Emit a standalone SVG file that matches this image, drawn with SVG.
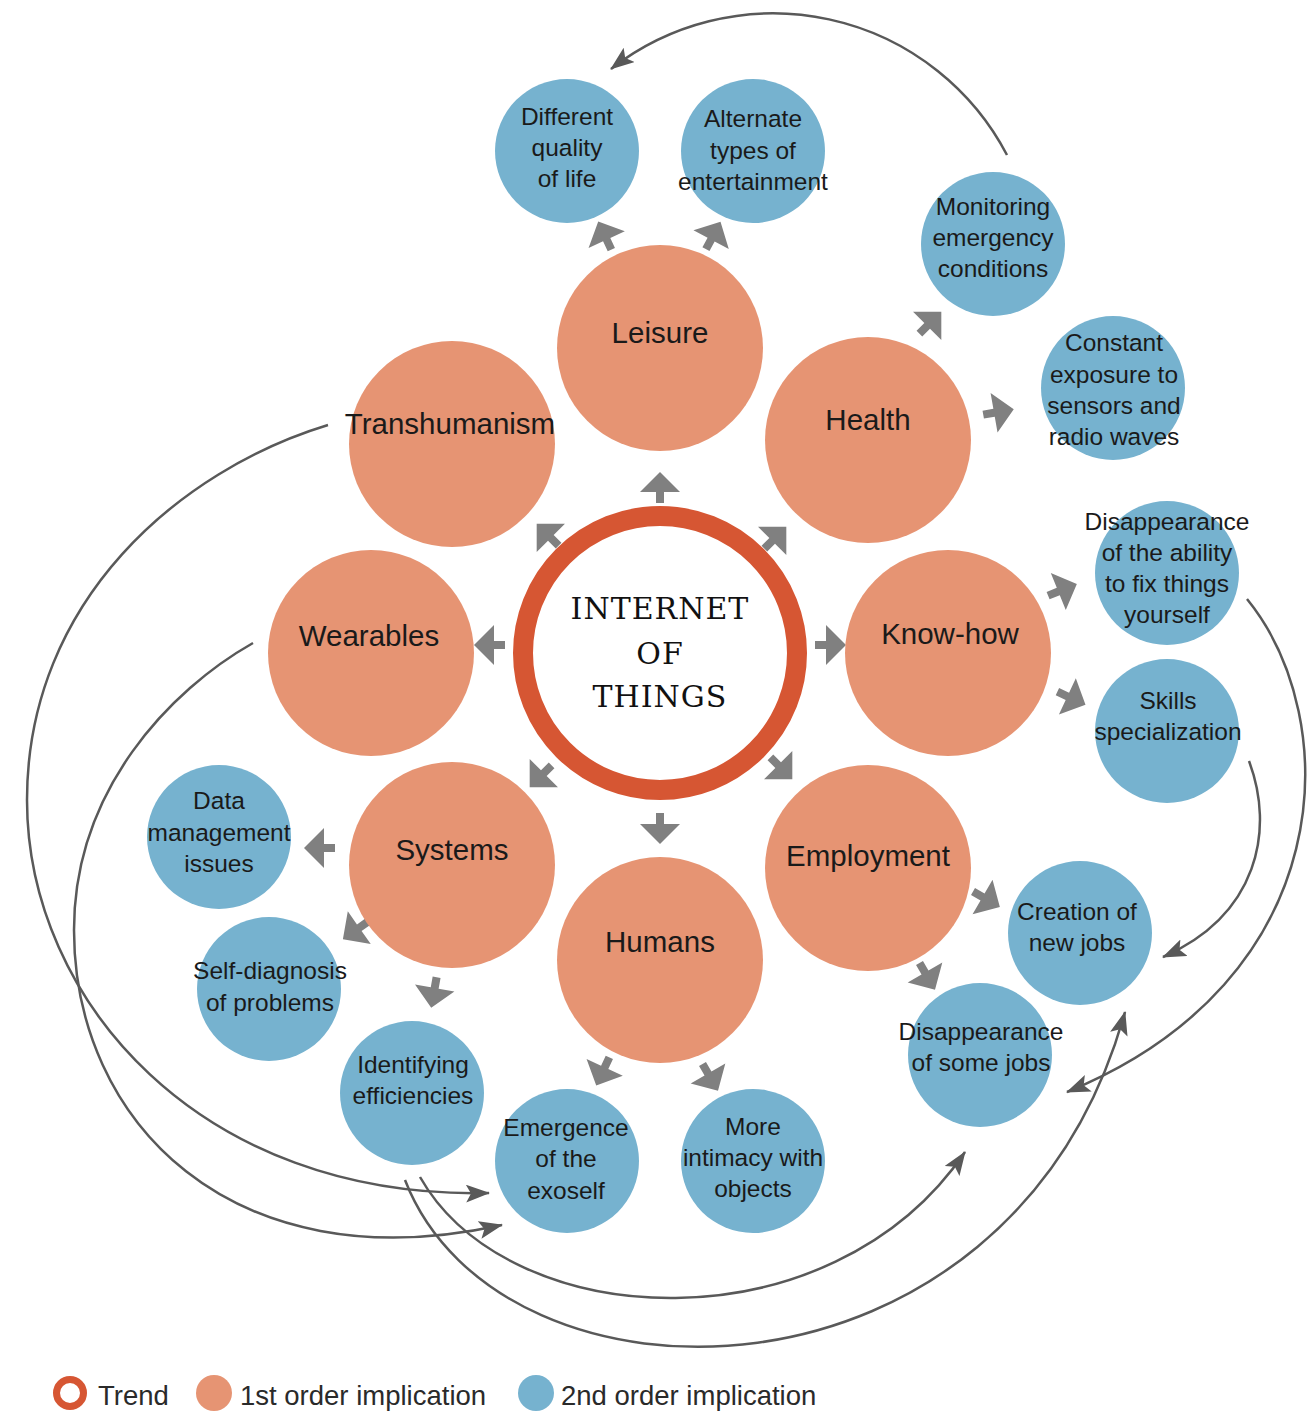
<svg xmlns="http://www.w3.org/2000/svg" xmlns:xlink="http://www.w3.org/1999/xlink" width="1313" height="1412" viewBox="0 0 1313 1412">
<style>
.o{fill:#E69473}
.b{fill:#76B2CF}
.ot{font-family:"Liberation Sans",Arial,sans-serif;font-size:29.5px;fill:#1a1a1a;text-anchor:middle}
.bt{font-family:"Liberation Sans",Arial,sans-serif;font-size:24.5px;fill:#1a1a1a;text-anchor:middle}
.ct{font-family:"DejaVu Serif","Liberation Serif",serif;font-size:30px;fill:#111;text-anchor:middle;letter-spacing:1px}
.lt{font-family:"Liberation Sans",Arial,sans-serif;font-size:27.5px;fill:#2a2a2a}
.ba{fill:#808080}
.cn{fill:none;stroke:#595959;stroke-width:2.5;marker-end:url(#ah)}
</style>
<defs>
<path id="blk" d="M16,0 L-4,-20 L-4,-4 L-15,-4 L-15,4 L-4,4 L-4,20 Z"/>
<marker id="ah" markerUnits="userSpaceOnUse" markerWidth="26" markerHeight="20" viewBox="0 0 26 20" refX="23" refY="9" orient="auto">
<path d="M0,0 L24,9 L0,18 L5,9 Z" fill="#595959"/>
</marker>
</defs>
<rect width="1313" height="1412" fill="#fff"/>

<g id="connectors">
<path class="cn" d="M1007,155 A264,264 0 0 0 611,69"/>
<path class="cn" d="M1247,599 C1345,720 1340,980 1067,1092"/>
<path class="cn" d="M1249,761 C1275,830 1258,915 1163,957"/>
<path class="cn" d="M328,425 C180,470 27,600 27,800 C27,1000 200,1200 489,1193"/>
<path class="cn" d="M253,643 C170,690 74,790 74,930 C74,1120 230,1285 502,1225"/>
<path class="cn" d="M420,1177 C510,1335 830,1350 965,1152"/>
<path class="cn" d="M405,1180 C500,1425 1010,1425 1125,1012"/>
</g>

<g id="block-arrows" class="ba">
<use href="#blk" transform="translate(660,488) rotate(-90)"/>
<use href="#blk" transform="translate(775,538) rotate(-45)"/>
<use href="#blk" transform="translate(548,535) rotate(-135)"/>
<use href="#blk" transform="translate(830,645)"/>
<use href="#blk" transform="translate(490,645) rotate(180)"/>
<use href="#blk" transform="translate(781,768) rotate(45)"/>
<use href="#blk" transform="translate(541,776) rotate(135)"/>
<use href="#blk" transform="translate(660,828) rotate(90)"/>
<use href="#blk" transform="translate(605,236) rotate(-115)"/>
<use href="#blk" transform="translate(713,236) rotate(-62)"/>
<use href="#blk" transform="translate(930,323) rotate(-45)"/>
<use href="#blk" transform="translate(998,412) rotate(-10)"/>
<use href="#blk" transform="translate(1062,590) rotate(-22)"/>
<use href="#blk" transform="translate(1071,698) rotate(25)"/>
<use href="#blk" transform="translate(986,899) rotate(30)"/>
<use href="#blk" transform="translate(927,976) rotate(60)"/>
<use href="#blk" transform="translate(710,1077) rotate(60)"/>
<use href="#blk" transform="translate(603,1071) rotate(115)"/>
<use href="#blk" transform="translate(434,992) rotate(100)"/>
<use href="#blk" transform="translate(356,930) rotate(145)"/>
<use href="#blk" transform="translate(320,848) rotate(180)"/>
</g>

<g id="iot">
<circle cx="660" cy="653" r="137" fill="#fff" stroke="#D65633" stroke-width="20"/>
<text class="ct"><tspan x="660" y="619">INTERNET</tspan><tspan x="660" y="664">OF</tspan><tspan x="660" y="707">THINGS</tspan></text>
</g>

<g id="leisure"><circle class="o" cx="660" cy="348" r="103"/><text class="ot" x="660" y="343">Leisure</text></g>
<g id="health"><circle class="o" cx="868" cy="440" r="103"/><text class="ot" x="868" y="430">Health</text></g>
<g id="knowhow"><circle class="o" cx="948" cy="653" r="103"/><text class="ot" x="950" y="644">Know-how</text></g>
<g id="employment"><circle class="o" cx="868" cy="868" r="103"/><text class="ot" x="868" y="866">Employment</text></g>
<g id="humans"><circle class="o" cx="660" cy="960" r="103"/><text class="ot" x="660" y="952">Humans</text></g>
<g id="systems"><circle class="o" cx="452" cy="865" r="103"/><text class="ot" x="452" y="860">Systems</text></g>
<g id="wearables"><circle class="o" cx="371" cy="653" r="103"/><text class="ot" x="369" y="646">Wearables</text></g>
<g id="transhumanism"><circle class="o" cx="452" cy="444" r="103"/><text class="ot" x="450" y="434">Transhumanism</text></g>

<g id="quality"><circle class="b" cx="567" cy="151" r="72"/><text class="bt"><tspan x="567" y="125">Different</tspan><tspan x="567" y="156">quality</tspan><tspan x="567" y="187">of life</tspan></text></g>
<g id="entertainment"><circle class="b" cx="753" cy="151" r="72"/><text class="bt"><tspan x="753" y="127">Alternate</tspan><tspan x="753" y="159">types of</tspan><tspan x="753" y="190">entertainment</tspan></text></g>
<g id="monitoring"><circle class="b" cx="993" cy="244" r="72"/><text class="bt"><tspan x="993" y="215">Monitoring</tspan><tspan x="993" y="246">emergency</tspan><tspan x="993" y="277">conditions</tspan></text></g>
<g id="exposure"><circle class="b" cx="1113" cy="388" r="72"/><text class="bt"><tspan x="1114" y="351">Constant</tspan><tspan x="1114" y="383">exposure to</tspan><tspan x="1114" y="414">sensors and</tspan><tspan x="1114" y="445">radio waves</tspan></text></g>
<g id="fixthings"><circle class="b" cx="1167" cy="573" r="72"/><text class="bt"><tspan x="1167" y="530">Disappearance</tspan><tspan x="1167" y="561">of the ability</tspan><tspan x="1167" y="592">to fix things</tspan><tspan x="1167" y="623">yourself</tspan></text></g>
<g id="skills"><circle class="b" cx="1167" cy="731" r="72"/><text class="bt"><tspan x="1168" y="709">Skills</tspan><tspan x="1168" y="740">specialization</tspan></text></g>
<g id="newjobs"><circle class="b" cx="1080" cy="933" r="72"/><text class="bt"><tspan x="1077" y="920">Creation of</tspan><tspan x="1077" y="951">new jobs</tspan></text></g>
<g id="somejobs"><circle class="b" cx="980" cy="1055" r="72"/><text class="bt"><tspan x="981" y="1040">Disappearance</tspan><tspan x="981" y="1071">of some jobs</tspan></text></g>
<g id="intimacy"><circle class="b" cx="753" cy="1161" r="72"/><text class="bt"><tspan x="753" y="1135">More</tspan><tspan x="753" y="1166">intimacy with</tspan><tspan x="753" y="1197">objects</tspan></text></g>
<g id="exoself"><circle class="b" cx="567" cy="1161" r="72"/><text class="bt"><tspan x="566" y="1136">Emergence</tspan><tspan x="566" y="1167">of the</tspan><tspan x="566" y="1199">exoself</tspan></text></g>
<g id="efficiencies"><circle class="b" cx="412" cy="1093" r="72"/><text class="bt"><tspan x="413" y="1073">Identifying</tspan><tspan x="413" y="1104">efficiencies</tspan></text></g>
<g id="selfdiag"><circle class="b" cx="269" cy="989" r="72"/><text class="bt"><tspan x="270" y="979">Self-diagnosis</tspan><tspan x="270" y="1011">of problems</tspan></text></g>
<g id="data"><circle class="b" cx="219" cy="837" r="72"/><text class="bt"><tspan x="219" y="809">Data</tspan><tspan x="219" y="841">management</tspan><tspan x="219" y="872">issues</tspan></text></g>

<g id="legend">
<circle cx="70" cy="1393" r="13.5" fill="#fff" stroke="#D65633" stroke-width="7"/>
<text class="lt" x="98" y="1405">Trend</text>
<circle class="o" cx="214" cy="1393" r="18"/>
<text class="lt" x="240" y="1405">1st order implication</text>
<circle class="b" cx="536" cy="1393" r="18"/>
<text class="lt" x="561" y="1405">2nd order implication</text>
</g>
</svg>
